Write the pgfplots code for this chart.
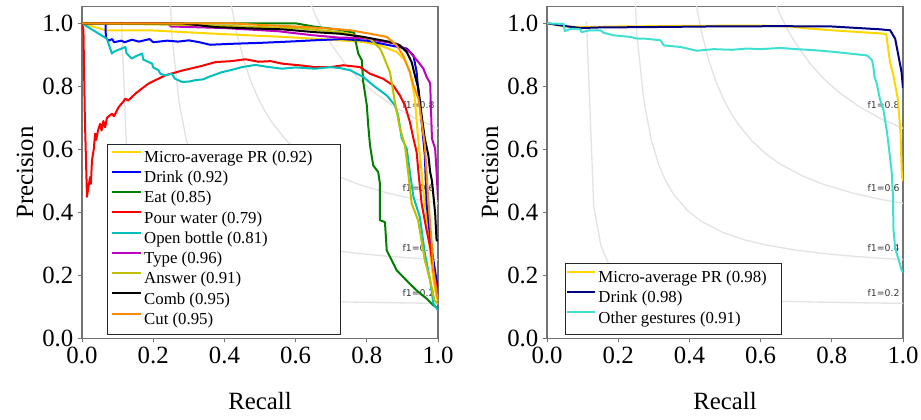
\documentclass[border=0pt]{standalone}
\usepackage{fontspec}
\setmainfont{Liberation Serif}
\newfontfamily\dejavu{DejaVu Sans}
\usepackage{pgfplots}
\pgfplotsset{compat=1.18}

\definecolor{cgold}{RGB}{255,215,0}
\definecolor{cblue}{RGB}{0,0,255}
\definecolor{cgreen}{RGB}{0,128,0}
\definecolor{cred}{RGB}{255,0,0}
\definecolor{ccyan}{RGB}{0,191,191}
\definecolor{cmag}{RGB}{191,0,191}
\definecolor{colive}{RGB}{191,191,0}
\definecolor{corange}{RGB}{255,140,0}
\definecolor{cnavy}{RGB}{0,0,128}
\definecolor{cturq}{RGB}{64,224,208}

\pgfplotsset{
  prstyle/.style={
    width=267pt, height=248.7pt, scale only axis,
    xmin=0, xmax=1, ymin=0, ymax=1.0527,
    xtick={0,0.2,0.4,0.6,0.8,1}, ytick={0,0.2,0.4,0.6,0.8,1},
    xticklabels={0.0,0.2,0.4,0.6,0.8,1.0},
    yticklabels={0.0,0.2,0.4,0.6,0.8,1.0},
    tick label style={font=\fontsize{18.6}{22}\selectfont},
    label style={font=\fontsize{18.6}{22}\selectfont},
    xlabel={Recall}, ylabel={Precision},
    xlabel style={at={(axis description cs:0.5,-0.216)}, anchor=base},
    ylabel style={at={(axis description cs:-0.137,0.5)}, anchor=base},
    axis line style={black!55, line width=0.8pt},
    tick style={black!55, line width=0.7pt},
    tick align=outside, major tick length=3pt,
    xtick pos=bottom, ytick pos=left,
    legend cell align=left,
    legend image code/.code={\draw[##1] (0pt,5pt) -- (21.5pt,5pt);},
    legend style={anchor=south west, draw=black!85, line width=0.7pt, fill=white,
      font=\fontsize{12.6}{15}\selectfont,
      nodes={inner sep=1.6pt, text height=9pt, text depth=3pt}},
    prline/.style={line width=1.5pt, line join=round},
  },
  isof/.style={color=black!11, line width=1pt, forget plot},
}

\newcommand\isofone{%
  \addplot[isof] coordinates {(0.1110,1.0074)(0.1312,0.4205)(0.1514,0.2945)(0.1716,0.2397)(0.1918,0.2090)(0.2120,0.1893)(0.2525,0.1656)(0.2929,0.1518)(0.3535,0.1394)(0.4545,0.1282)(0.5555,0.1220)(0.6565,0.1180)(0.7576,0.1152)(0.8586,0.1132)(0.9596,0.1116)(1.0,0.1111)};
  \addplot[isof] coordinates {(0.2120,3.53)(0.2322,1.441)(0.2525,0.962)(0.2727,0.750)(0.2929,0.6306)(0.3131,0.5537)(0.3333,0.5)(0.3535,0.4606)(0.3939,0.4063)(0.4343,0.3706)(0.4949,0.3356)(0.5555,0.3125)(0.6161,0.2961)(0.6969,0.2805)(0.7778,0.2692)(0.8586,0.2607)(0.9394,0.2541)(1.0,0.25)};
  \addplot[isof] coordinates {(0.3131,7.17)(0.3333,3.0)(0.3535,1.982)(0.3737,1.521)(0.3939,1.2586)(0.4141,1.0889)(0.4343,0.9702)(0.4545,0.8825)(0.4747,0.8150)(0.4949,0.7618)(0.5151,0.7184)(0.5353,0.6825)(0.5757,0.6265)(0.6161,0.5846)(0.6565,0.5523)(0.7171,0.5158)(0.7778,0.4884)(0.8586,0.4611)(0.9394,0.4407)(1.0,0.4286)};
  \addplot[isof] coordinates {(0.4141,11.7)(0.4343,5.065)(0.4545,3.336)(0.4747,2.542)(0.4949,2.086)(0.5151,1.790)(0.5353,1.5827)(0.5555,1.429)(0.5757,1.3107)(0.5959,1.2168)(0.6161,1.1405)(0.6363,1.0772)(0.6565,1.0238)(0.6767,0.978)(0.6969,0.939)(0.7373,0.8744)(0.7778,0.8235)(0.8182,0.7826)(0.8788,0.7342)(0.9394,0.6966)(1.0,0.6667)};
  \foreach \f/\y in {0.2/0.1322,0.4/0.2756,0.6/0.4653,0.8/0.7282}{
    \edef\tmp{\noexpand\node[anchor=base west, inner sep=0pt, text=black!78,
      font=\noexpand\dejavu\noexpand\fontsize{7}{8}\noexpand\selectfont]
      at (axis cs:0.9,\y) {f1=\f};}\tmp
  }%
}

\begin{document}
\begin{tikzpicture}
\useasboundingbox (0,0) rectangle (690.75pt,314.25pt);

\begin{axis}[prstyle, at={(61.5pt,60.5pt)}, anchor=south west,
  legend style={at={(0.07,0.01)}, inner xsep=3pt, inner ysep=3pt}]
\isofone
\addplot[prline, cgold] coordinates {(0,1.0)(0.03,0.99)(0.066,0.978)(0.187,0.978)(0.375,0.967)(0.562,0.957)(0.654,0.951)(0.725,0.946)(0.79,0.941)(0.837,0.93)(0.884,0.909)(0.907,0.883)(0.921,0.845)(0.935,0.762)(0.944,0.635)(0.954,0.528)(0.959,0.47)(0.968,0.375)(0.978,0.27)(0.987,0.184)(0.996,0.131)(1.0,0.12)};
\addlegendentry{Micro-average PR (0.92)\hspace*{16pt}}
\addplot[prline, cblue] coordinates {(0,1.0)(0.066,1.0)(0.067,0.955)(0.075,0.945)(0.085,0.95)(0.09,0.94)(0.11,0.945)(0.12,0.94)(0.14,0.948)(0.16,0.942)(0.19,0.95)(0.2,0.94)(0.24,0.945)(0.27,0.942)(0.3,0.946)(0.33,0.94)(0.36,0.932)(0.42,0.935)(0.5,0.938)(0.58,0.942)(0.65,0.946)(0.73,0.95)(0.8,0.945)(0.865,0.93)(0.912,0.92)(0.931,0.898)(0.94,0.845)(0.945,0.782)(0.954,0.687)(0.963,0.581)(0.968,0.428)(0.978,0.32)(0.987,0.248)(0.996,0.184)(1.0,0.14)};
\addlegendentry{Drink (0.92)}
\addplot[prline, cgreen] coordinates {(0,1.0)(0.6,1.0)(0.65,0.99)(0.72,0.98)(0.765,0.97)(0.767,0.951)(0.776,0.904)(0.786,0.883)(0.79,0.814)(0.8,0.74)(0.804,0.676)(0.809,0.613)(0.818,0.549)(0.832,0.528)(0.837,0.49)(0.837,0.375)(0.851,0.369)(0.856,0.279)(0.87,0.248)(0.884,0.216)(0.902,0.195)(0.921,0.173)(0.94,0.152)(0.968,0.126)(0.987,0.105)(1.0,0.095)};
\addlegendentry{Eat (0.85)}
\addplot[prline, cred] coordinates {(0,1.0)(0.004,0.98)(0.008,0.7)(0.014,0.449)(0.018,0.48)(0.023,0.512)(0.025,0.49)(0.028,0.565)(0.033,0.6)(0.037,0.65)(0.04,0.63)(0.045,0.66)(0.051,0.681)(0.055,0.66)(0.06,0.69)(0.065,0.67)(0.07,0.7)(0.084,0.713)(0.09,0.705)(0.103,0.734)(0.115,0.75)(0.122,0.761)(0.13,0.755)(0.15,0.777)(0.187,0.809)(0.234,0.835)(0.281,0.85)(0.337,0.865)(0.375,0.877)(0.42,0.88)(0.459,0.886)(0.496,0.878)(0.53,0.88)(0.562,0.872)(0.609,0.867)(0.654,0.861)(0.697,0.861)(0.734,0.867)(0.781,0.861)(0.809,0.84)(0.846,0.824)(0.874,0.803)(0.893,0.771)(0.907,0.74)(0.921,0.687)(0.931,0.634)(0.94,0.591)(0.945,0.528)(0.954,0.428)(0.968,0.343)(0.978,0.29)(0.987,0.216)(0.996,0.163)(1.0,0.13)};
\addlegendentry{Pour water (0.79)}
\addplot[prline, ccyan] coordinates {(0,1.0)(0.07,0.951)(0.084,0.904)(0.09,0.91)(0.1,0.915)(0.122,0.925)(0.125,0.905)(0.14,0.888)(0.15,0.895)(0.169,0.904)(0.172,0.885)(0.197,0.872)(0.2,0.86)(0.215,0.851)(0.22,0.84)(0.234,0.835)(0.253,0.84)(0.26,0.825)(0.281,0.814)(0.3,0.815)(0.32,0.82)(0.34,0.822)(0.356,0.83)(0.393,0.845)(0.42,0.852)(0.449,0.861)(0.487,0.868)(0.52,0.862)(0.562,0.856)(0.6,0.86)(0.654,0.856)(0.697,0.861)(0.725,0.858)(0.753,0.851)(0.79,0.83)(0.818,0.803)(0.856,0.771)(0.879,0.74)(0.888,0.708)(0.898,0.635)(0.912,0.603)(0.921,0.528)(0.931,0.449)(0.949,0.385)(0.963,0.27)(0.978,0.184)(0.987,0.11)(1.0,0.089)};
\addlegendentry{Open bottle (0.81)}
\addplot[prline, cmag] coordinates {(0,1.0)(0.24,1.0)(0.25,0.99)(0.4,0.985)(0.55,0.975)(0.65,0.962)(0.72,0.955)(0.79,0.953)(0.884,0.935)(0.921,0.909)(0.945,0.877)(0.959,0.856)(0.968,0.83)(0.978,0.81)(0.983,0.634)(0.992,0.602)(0.996,0.528)(1.0,0.44)};
\addlegendentry{Type (0.96)}
\addplot[prline, colive] coordinates {(0,1.0)(0.3,0.995)(0.6,0.985)(0.725,0.972)(0.809,0.951)(0.837,0.92)(0.842,0.909)(0.865,0.845)(0.879,0.75)(0.893,0.667)(0.907,0.613)(0.916,0.528)(0.926,0.428)(0.944,0.375)(0.963,0.248)(0.978,0.184)(0.99,0.12)(1.0,0.11)};
\addlegendentry{Answer (0.91)}
\addplot[prline, black] coordinates {(0,1.0)(0.28,1.0)(0.375,0.988)(0.468,0.984)(0.562,0.981)(0.654,0.972)(0.725,0.967)(0.79,0.957)(0.865,0.941)(0.893,0.93)(0.912,0.909)(0.926,0.877)(0.935,0.835)(0.945,0.793)(0.954,0.708)(0.963,0.634)(0.973,0.581)(0.978,0.528)(0.983,0.5)(0.992,0.397)(0.996,0.311)(1.0,0.31)};
\addlegendentry{Comb (0.95)}
\addplot[prline, corange] coordinates {(0,1.0)(0.42,1.0)(0.5,0.995)(0.6,0.99)(0.7,0.983)(0.753,0.978)(0.809,0.967)(0.856,0.957)(0.884,0.93)(0.902,0.898)(0.921,0.845)(0.931,0.803)(0.945,0.761)(0.954,0.687)(0.963,0.613)(0.968,0.528)(0.972,0.45)(0.978,0.365)(0.983,0.29)(0.987,0.216)(0.996,0.143)(1.0,0.12)};
\addlegendentry{Cut (0.95)}
\end{axis}

\begin{axis}[prstyle, at={(410.25pt,60.5pt)}, anchor=south west,
  legend style={at={(0.051,0.01)}, inner xsep=0pt, inner ysep=4pt}]
\isofone
\addplot[prline, cgold] coordinates {(0,1.0)(0.05,0.99)(0.1,0.988)(0.2,0.99)(0.4,0.992)(0.6,0.993)(0.68,0.99)(0.73,0.984)(0.8,0.978)(0.936,0.968)(0.953,0.966)(0.963,0.88)(0.972,0.84)(0.986,0.757)(0.993,0.651)(0.997,0.513)(1.0,0.5)};
\addlegendentry{Micro-average PR (0.98)\hspace*{9pt}}
\addplot[prline, cnavy] coordinates {(0,1.0)(0.03,0.995)(0.06,0.99)(0.094,0.985)(0.15,0.987)(0.281,0.988)(0.45,0.99)(0.656,0.991)(0.8,0.99)(0.936,0.981)(0.964,0.978)(0.978,0.951)(0.987,0.898)(0.996,0.845)(1.0,0.795)};
\addlegendentry{Drink (0.98)}
\addplot[prline, cturq] coordinates {(0,1.0)(0.047,0.998)(0.05,0.975)(0.06,0.98)(0.07,0.983)(0.094,0.981)(0.097,0.972)(0.12,0.978)(0.15,0.978)(0.159,0.97)(0.187,0.962)(0.234,0.957)(0.25,0.952)(0.281,0.951)(0.319,0.946)(0.328,0.93)(0.375,0.925)(0.421,0.913)(0.468,0.918)(0.52,0.916)(0.562,0.92)(0.6,0.918)(0.656,0.922)(0.7,0.918)(0.749,0.915)(0.8,0.91)(0.843,0.905)(0.899,0.898)(0.913,0.883)(0.917,0.86)(0.92,0.83)(0.926,0.81)(0.935,0.76)(0.945,0.725)(0.955,0.655)(0.963,0.58)(0.968,0.53)(0.972,0.45)(0.973,0.35)(0.978,0.285)(0.987,0.253)(0.996,0.216)(1.0,0.21)};
\addlegendentry{Other gestures (0.91)}
\end{axis}
\end{tikzpicture}
\end{document}
